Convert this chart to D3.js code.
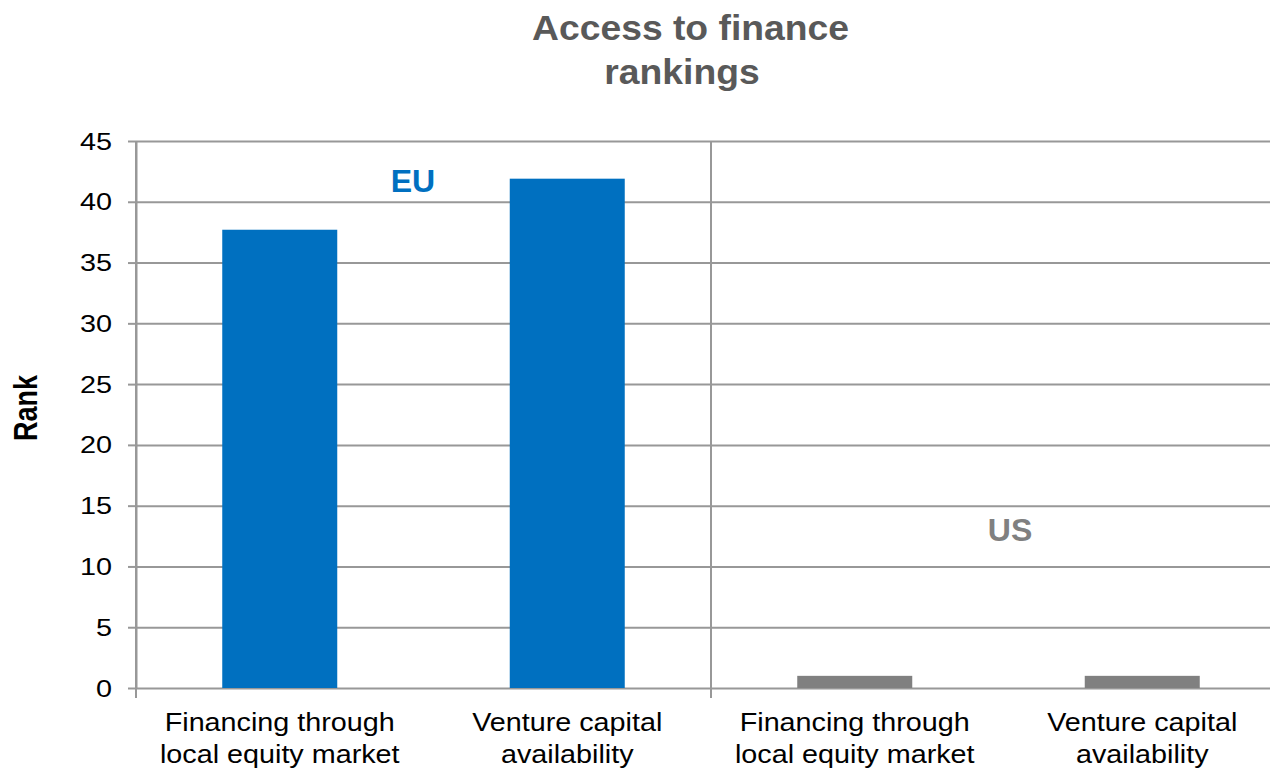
<!DOCTYPE html>
<html>
<head>
<meta charset="utf-8">
<script src="https://cdn.jsdelivr.net/npm/d3@7"></script>
<style>
  html, body { margin: 0; padding: 0; background: #fff; }
  svg { display: block; font-family: "Liberation Sans", Arial, sans-serif; }
</style>
</head>
<body>
<svg id="chart" width="1270" height="769"></svg>
<script>
// Chart data
const titleLines = ["Access to finance", "rankings"];
const groups = ["EU", "US"];
const categories = ["Financing through local equity market", "Venture capital availability"];
const categoryLines = [["Financing through", "local equity market"], ["Venture capital", "availability"]];
const euValues = [37.7, 41.9];
const usValues = [1, 1];
const yTicks = [0, 5, 10, 15, 20, 25, 30, 35, 40, 45];
const yLabel = "Rank";

const groupColors = { EU: "#0070C0", US: "#808080" };
const groupValues = { EU: euValues, US: usValues };
const gridColor = "#989898";

const svg = d3.select("#chart");
const plot = { left: 136, right: 1286, top: 141, bottom: 688 };

// One row per bar: group + category
const rows = [];
groups.forEach(g => categories.forEach((c, i) =>
  rows.push({ group: g, cat: c, idx: i, key: g + "|" + c, value: groupValues[g][i] })));

const x = d3.scaleBand().domain(rows.map(r => r.key)).range([plot.left, plot.right])
  .paddingInner(0.6).paddingOuter(0.3);
const xStep = d3.scaleBand().domain(rows.map(r => r.key)).range([plot.left, plot.right]).padding(0);
const y = d3.scaleLinear().domain([0, 45]).range([plot.bottom, plot.top]);

// Text helper: places text at (px,py) with a horizontal stretch factor
function stretchedText(parent, px, py, sx, extra) {
  return parent.append("text")
    .attr("transform", `translate(${px},${py}) scale(${sx},1)${extra || ""}`);
}

const g = svg.append("g");

// Horizontal gridlines
g.append("g")
  .attr("transform", `translate(${plot.left},0)`)
  .call(d3.axisLeft(y).tickValues(yTicks).tickSize(-(plot.right - plot.left)).tickFormat(""))
  .call(a => a.select(".domain").remove())
  .call(a => a.selectAll("line").attr("stroke", gridColor).attr("stroke-width", 2));

// Y axis line and tick marks
const yAxis = g.append("g")
  .attr("transform", `translate(${plot.left},0)`)
  .call(d3.axisLeft(y).tickValues(yTicks).tickSize(8).tickSizeOuter(0).tickFormat(""))
  .call(a => a.select(".domain").attr("stroke", gridColor).attr("stroke-width", 2))
  .call(a => a.selectAll("line").attr("stroke", gridColor).attr("stroke-width", 2));

// Y tick labels
yTicks.forEach(t => {
  stretchedText(g, 112, y(t) + 8.5, 1.2)
    .attr("text-anchor", "end").attr("font-size", 24).attr("fill", "#000").text(t);
});

// Group separator lines (outer category boundaries)
const boundaries = groups.map(gr => xStep(gr + "|" + categories[0]));
g.selectAll(".sep").data(boundaries).enter().append("line")
  .attr("x1", d => d).attr("x2", d => d)
  .attr("y1", plot.top).attr("y2", plot.bottom + 10)
  .attr("stroke", gridColor).attr("stroke-width", 2);

// Bars
g.selectAll(".bar").data(rows).enter().append("rect")
  .attr("x", d => x(d.key))
  .attr("width", x.bandwidth())
  .attr("y", d => y(d.value))
  .attr("height", d => y(0) - y(d.value))
  .attr("fill", d => groupColors[d.group]);

// Category labels
rows.forEach(r => {
  const cx = x(r.key) + x.bandwidth() / 2;
  categoryLines[r.idx].forEach((line, li) => {
    stretchedText(g, cx, 731 + li * 32, 1.15)
      .attr("text-anchor", "middle").attr("font-size", 25).attr("fill", "#000").text(line);
  });
});

// Group labels
g.append("text").attr("x", 413).attr("y", 192).attr("text-anchor", "middle")
  .attr("font-size", 32).attr("font-weight", "bold").attr("fill", groupColors.EU).text(groups[0]);
g.append("text").attr("x", 1010).attr("y", 541).attr("text-anchor", "middle")
  .attr("font-size", 32).attr("font-weight", "bold").attr("fill", groupColors.US).text(groups[1]);

// Title
const titleX = [690.5, 682];
titleLines.forEach((line, i) => {
  stretchedText(svg, titleX[i], 39.5 + i * 44, 1.065)
    .attr("text-anchor", "middle").attr("font-size", 35).attr("font-weight", "bold")
    .attr("fill", "#595959").text(line);
});

// Y axis label
stretchedText(svg, 37, 408, 1.26, " rotate(-90)")
  .attr("text-anchor", "middle").attr("font-size", 27).attr("font-weight", "bold")
  .attr("fill", "#000").text(yLabel);
</script>
</body>
</html>
